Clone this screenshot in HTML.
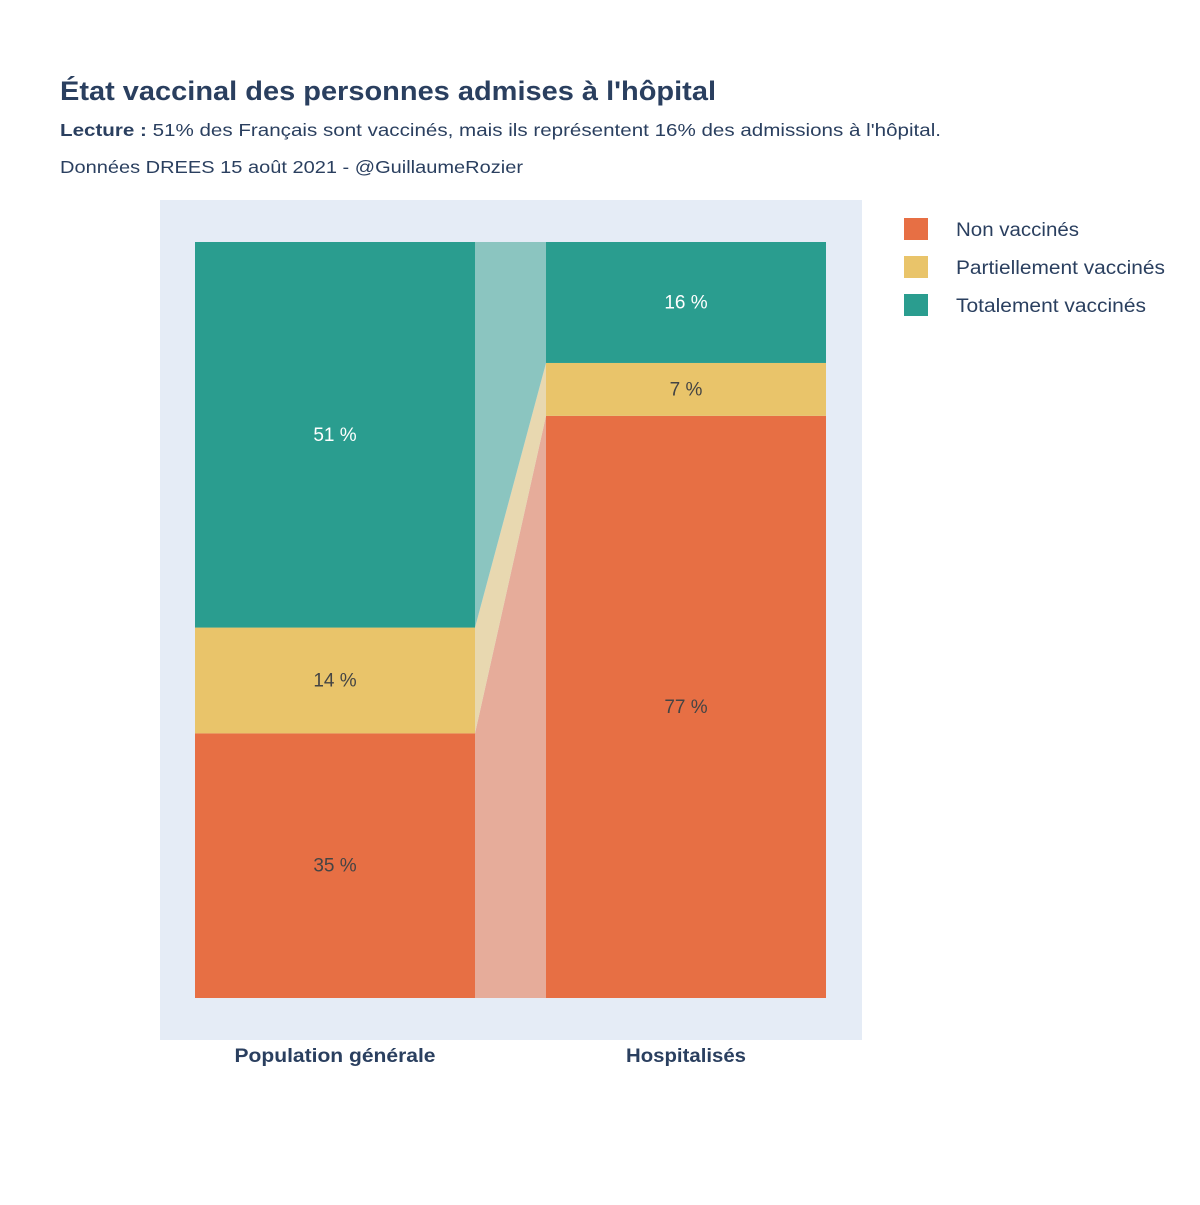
<!DOCTYPE html>
<html><head><meta charset="utf-8">
<style>
html,body{margin:0;padding:0;background:#fff;}
svg text{font-family:"Liberation Sans",sans-serif;}
</style></head>
<body>
<svg id="chart" width="1200" height="1200" xmlns="http://www.w3.org/2000/svg">
  <text x="60" y="100" font-size="27" font-weight="bold" fill="#2a3f5f" textLength="656" lengthAdjust="spacingAndGlyphs">État vaccinal des personnes admises à l'hôpital</text>
  <text x="60" y="136" font-size="17.5" fill="#2a3f5f" textLength="881" lengthAdjust="spacingAndGlyphs"><tspan font-weight="bold">Lecture :</tspan> 51% des Français sont vaccinés, mais ils représentent 16% des admissions à l'hôpital.</text>
  <text x="60" y="173" font-size="17.5" fill="#2a3f5f" textLength="463" lengthAdjust="spacingAndGlyphs">Données DREES 15 août 2021 - @GuillaumeRozier</text>
  <rect x="160" y="200" width="702" height="840" fill="#e5ecf6"/>
  <g id="marks"></g>
  <g id="legend"></g>
</svg>
<script>
const categories = ["Population générale", "Hospitalisés"];
const seriesNames = ["Non vaccinés", "Partiellement vaccinés", "Totalement vaccinés"];
const nonVaccines = [35, 77];
const partiels = [14, 7];
const totalement = [51, 16];
const colors = ["#e76f44", "#e9c46a", "#2a9d8f"];
const lightColors = ["#e6ac9a", "#e8d8b0", "#8bc5c0"];
const textColors = ["#444", "#444", "#fff"];
const catLabelWidths = [201, 120];
const legendWidths = [123, 209, 190];

const NS = "http://www.w3.org/2000/svg";
const y0 = 998, y1 = 242;
function yScale(v){ return y0 - (y0 - y1) * v / 100; }
const barX = [195, 546], barW = 280;
const marks = document.getElementById('marks');
const series = [nonVaccines, partiels, totalement];

function mk(tag, attrs){ const e = document.createElementNS(NS, tag); for (const k in attrs) e.setAttribute(k, attrs[k]); return e; }

const bottoms = categories.map(() => 0);
const stacks = series.map(s => s.map((v, i) => { const b = bottoms[i]; bottoms[i] += v; return [b, b + v]; }));

stacks.forEach((st, si) => {
  const pts = [
    [barX[0] + barW, yScale(st[0][0])], [barX[0] + barW, yScale(st[0][1])],
    [barX[1], yScale(st[1][1])], [barX[1], yScale(st[1][0])]
  ];
  const p = mk('polygon', {points: pts.map(q => q.join(',')).join(' '), fill: lightColors[si]});
  
  
  marks.appendChild(p);
});

stacks.forEach((st, si) => {
  st.forEach((r, ci) => {
    const yt = yScale(r[1]), yb = yScale(r[0]);
    const rect = mk('rect', {x: barX[ci], y: yt, width: barW, height: yb - yt, fill: colors[si]});
    
    
    marks.appendChild(rect);
    const t = mk('text', {x: barX[ci] + barW / 2, y: (yt + yb) / 2 + 6, 'text-anchor': 'middle', 'font-size': 19, fill: textColors[si]});
    t.textContent = series[si][ci] + ' %';
    
    
    marks.appendChild(t);
  });
});

categories.forEach((c, ci) => {
  const t = mk('text', {x: barX[ci] + barW / 2, y: 1062, 'text-anchor': 'middle', 'font-size': 19, 'font-weight': 'bold', fill: '#2a3f5f', textLength: catLabelWidths[ci], lengthAdjust: 'spacingAndGlyphs'});
  t.textContent = c;
  
  
  marks.appendChild(t);
});

const legend = document.getElementById('legend');
seriesNames.forEach((n, i) => {
  const y = 218 + i * 38;
  const r = mk('rect', {x: 904, y: y, width: 24, height: 22, fill: colors[i]});
  
  
  legend.appendChild(r);
  const t = mk('text', {x: 956, y: y + 18, 'font-size': 19, fill: '#2a3f5f', textLength: legendWidths[i], lengthAdjust: 'spacingAndGlyphs'});
  t.textContent = n;
  
  
  legend.appendChild(t);
});
</script>
</body></html>
